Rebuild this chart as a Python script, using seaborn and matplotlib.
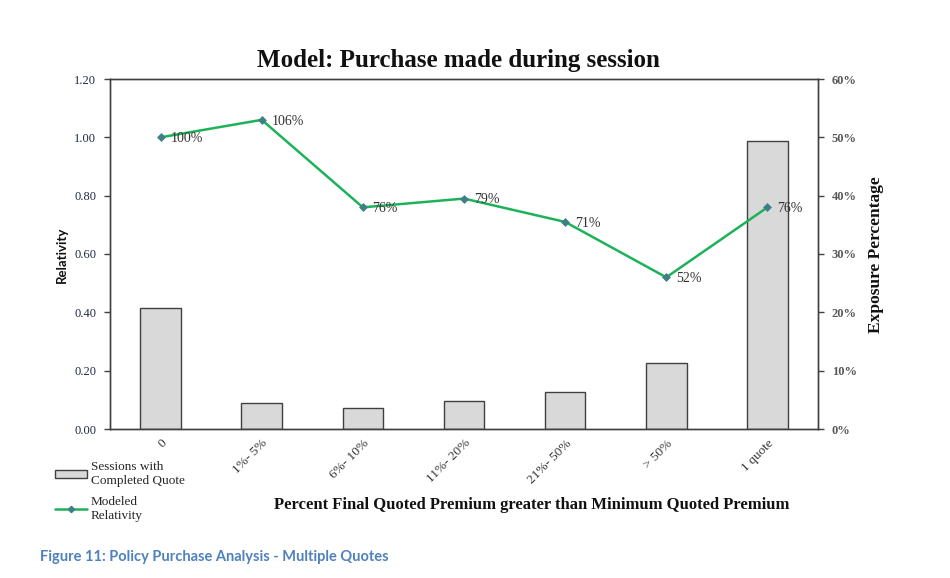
import matplotlib
matplotlib.use("Agg")
import matplotlib.pyplot as plt
import seaborn as sns
import numpy as np
import pandas as pd
from matplotlib.patches import Patch
from matplotlib.lines import Line2D
from matplotlib.ticker import FuncFormatter

categories = ["0", "1%- 5%", "6%- 10%", "11%- 20%", "21%- 50%", "> 50%", "1 quote"]
relativity = [1.00, 1.06, 0.76, 0.79, 0.71, 0.52, 0.76]
exposure_pct = [20.7, 4.5, 3.6, 4.8, 6.3, 11.3, 49.4]
rel_labels = ["100%", "106%", "76%", "79%", "71%", "52%", "76%"]

sns.set_theme(style="white")
plt.rcParams["font.family"] = ["Liberation Serif", "DejaVu Serif"]

df = pd.DataFrame({"cat": categories, "rel": relativity, "exp": exposure_pct})

fig = plt.figure(figsize=(9.5, 5.78), dpi=100)
ax = fig.add_axes([110/950, 1-429/578, (818-110)/950, (429-79)/578])
ax2 = ax.twinx()

green = "#1DB25A"
mcol = "#3F7F86"

sns.barplot(data=df, x="cat", y="exp", ax=ax2, color="#D9D9D9", width=0.4,
            edgecolor="#404040", linewidth=1.0, saturation=1)
sns.pointplot(data=df, x="cat", y="rel", ax=ax, color=green, markers="D",
              markersize=3.2, linewidth=1.8)
for ln in ax.lines:
    ln.set_markerfacecolor(mcol)
    ln.set_markeredgecolor(mcol)

ax.set_zorder(ax2.get_zorder() + 1)
ax.patch.set_visible(False)

for a in (ax, ax2):
    a.set_xlim(-0.5, 6.5)
    a.set_xlabel("")
    a.set_ylabel("")
    for s in a.spines.values():
        s.set_color("#404040")
        s.set_linewidth(1.0)

ax.set_ylim(0, 1.2)
ax.set_yticks(np.arange(0, 1.21, 0.2))
ax.yaxis.set_major_formatter(FuncFormatter(lambda v, p: f"{v:.2f}"))
ax2.set_ylim(0, 60)
ax2.set_yticks(np.arange(0, 61, 10))
ax2.yaxis.set_major_formatter(FuncFormatter(lambda v, p: f"{v:.0f}%"))

ax.tick_params(axis="y", which="both", left=True, length=4, width=1, color="#404040",
               labelsize=9, labelcolor="#1F2A44", pad=6)
ax2.tick_params(axis="y", right=True, length=4, width=1, color="#404040",
                labelsize=9, labelcolor="#595959", pad=6)
ax.tick_params(axis="x", length=0, pad=6)
ax2.tick_params(axis="x", length=0)
for lab in ax2.get_yticklabels():
    lab.set_fontweight("bold")

ax.set_xticks(range(len(categories)))
ax.set_xticklabels(categories, rotation=45, ha="right", rotation_mode="anchor",
                   fontsize=9.5, color="#333333")

for i, (v, t) in enumerate(zip(relativity, rel_labels)):
    ax.annotate(t, (i, v), xytext=(7, -1), textcoords="offset points",
                ha="left", va="center", fontsize=10, color="#333333")

fig.text(458/950, 1-60/578, "Model: Purchase made during session", ha="center",
         va="center", fontsize=18, fontweight="bold", color="#111111")
fig.text(532/950, 1-505/578,
         "Percent Final Quoted Premium greater than Minimum Quoted Premium",
         ha="center", va="center", fontsize=12, fontweight="bold", color="#111111")
fig.text(62/950, 1-255/578, "Relativity", rotation=90, ha="center", va="center",
         fontsize=9.5, fontweight="bold", family=["Lato", "DejaVu Sans"], color="#111111")
fig.text(876/950, 1-255/578, "Exposure Percentage", rotation=90, ha="center",
         va="center", fontsize=12.5, fontweight="bold", color="#111111")
fig.text(40/950, 1-557/578, "Figure 11: Policy Purchase Analysis - Multiple Quotes",
         ha="left", va="center", fontsize=10.5, fontweight="bold",
         family=["Lato", "DejaVu Sans"], color="#4F81BD")

handles = [Patch(facecolor="#D9D9D9", edgecolor="#404040", linewidth=1.0),
           Line2D([0], [0], color=green, lw=1.8, marker="D", markersize=3.2,
                  markerfacecolor=mcol, markeredgecolor=mcol)]
fig.legend(handles, ["Sessions with\nCompleted Quote", "Modeled\nRelativity"],
           loc="upper left", bbox_to_anchor=(50/950, 1-456/578), frameon=False,
           fontsize=9.5, handlelength=2.4, handleheight=0.6, handletextpad=0.3,
           labelspacing=0.7, borderaxespad=0)

fig.savefig("out.png", dpi=100)
